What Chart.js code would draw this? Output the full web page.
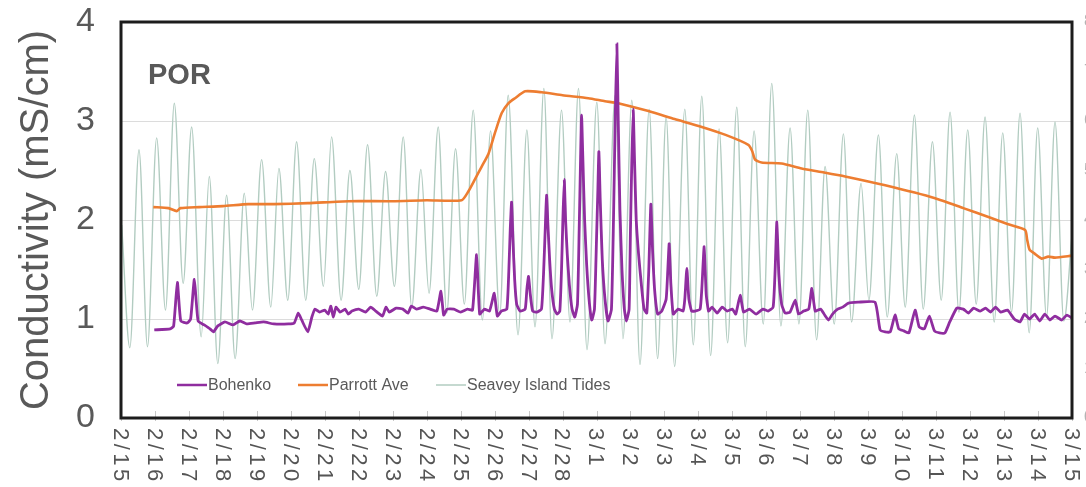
<!DOCTYPE html>
<html>
<head>
<meta charset="utf-8">
<script src="https://cdn.jsdelivr.net/npm/chart.js@4.4.1/dist/chart.umd.min.js"></script>
<style>
html, body { margin: 0; padding: 0; background: #fff; overflow: hidden; }
#wrap { width: 1100px; height: 487px; position: relative; }
</style>
</head>
<body>
<div id="wrap"><canvas id="chart"></canvas></div>
<script>
// day labels, one per tick (x = days after 2/15)
var dateLabels = ['2/15','2/16','2/17','2/18','2/19','2/20','2/21','2/22','2/23','2/24','2/25','2/26','2/27','2/28',
    '3/1','3/2','3/3','3/4','3/5','3/6','3/7','3/8','3/9','3/10','3/11','3/12','3/13','3/14','3/15'];
var seriesNames = ['Bohenko', 'Parrott Ave', 'Seavey Island Tides'];
var yTicks = [0, 1, 2, 3, 4];

// Bohenko
var bohDay = [0.98,1.45,1.55,1.66,1.76,1.95,2.05,2.16,2.27,2.45,2.62,2.72,2.85,3.06,3.3,3.5,3.7,3.95,4.2,4.5,4.93,5.1,5.22,5.32,5.5,5.62,5.71,5.85,6.0,6.1,6.18,6.25,6.33,6.45,6.6,6.69,6.8,7.0,7.2,7.35,7.5,7.7,7.8,7.9,8.1,8.3,8.45,8.55,8.7,8.9,9.1,9.3,9.42,9.5,9.6,9.8,10.0,10.2,10.35,10.47,10.56,10.7,10.85,10.99,11.08,
    11.2,11.36,11.42,11.46,11.5,11.54,11.59,11.65,11.75,11.9,11.95,12.0,12.05,12.12,12.25,12.38,12.44,12.49,12.53,12.57,12.62,12.68,12.76,12.84,12.92,12.97,13.01,13.05,13.09,13.14,13.2,13.28,13.36,13.44,13.49,13.53,13.56,13.6,13.65,13.71,13.78,13.86,13.94,14.0,14.04,14.07,14.11,14.17,14.25,14.34,14.44,14.5,14.55,14.6,14.64,14.69,14.75,14.82,14.88,14.96,15.0,15.04,15.08,15.12,15.17,15.24,15.32,15.4,15.48,15.54,15.6,15.65,15.71,15.8,15.92,16.05,16.1,16.14,16.19,16.26,
    16.4,16.55,16.6,16.66,16.72,16.8,16.9,17.05,17.1,17.17,17.23,17.3,17.4,17.55,17.7,17.85,18.0,18.1,18.23,18.33,18.5,18.7,18.9,19.05,19.2,19.26,19.31,19.37,19.45,19.55,19.7,19.85,19.95,20.1,20.25,20.34,20.44,20.6,20.7,20.83,20.95,21.1,21.25,21.42,21.7,22.2,22.35,22.5,22.65,22.79,22.9,23.05,23.2,23.38,23.5,23.65,23.8,23.95,24.1,24.26,24.4,24.61,24.8,24.95,25.1,25.3,25.45,25.6,25.75,25.9,26.1,26.3,26.47,26.6,26.75,26.9,27.05,27.2,27.35,27.5,27.7,27.85,28.0];
var bohVal = [0.89,0.9,0.93,1.37,0.98,0.96,1.0,1.4,0.98,0.94,0.9,0.87,0.93,0.97,0.94,0.98,0.95,0.96,0.97,0.95,0.95,0.96,1.06,0.99,0.87,1.02,1.1,1.07,1.09,1.05,1.13,1.02,1.12,1.07,1.1,1.05,1.08,1.1,1.07,1.12,1.08,1.03,1.12,1.07,1.11,1.1,1.06,1.13,1.1,1.12,1.1,1.08,1.28,1.04,1.1,1.1,1.07,1.1,1.09,1.65,1.05,1.1,1.08,1.26,1.03,
    1.08,1.1,1.5,1.9,2.18,1.8,1.4,1.15,1.08,1.1,1.3,1.43,1.25,1.08,1.07,1.1,1.45,1.9,2.25,1.95,1.6,1.3,1.1,1.05,1.08,1.5,2.0,2.41,2.0,1.65,1.35,1.1,1.02,1.15,1.9,2.6,3.06,2.6,2.0,1.55,1.2,0.99,1.1,1.8,2.3,2.69,2.2,1.6,1.2,0.98,1.1,2.0,3.0,3.78,3.0,2.1,1.5,1.1,0.98,1.1,1.9,2.6,3.12,2.6,2.0,1.65,1.35,1.1,1.06,1.5,2.16,1.7,1.3,1.05,1.08,1.2,1.5,1.76,1.35,1.05,
    1.1,1.08,1.2,1.51,1.2,1.08,1.08,1.1,1.3,1.73,1.25,1.08,1.12,1.06,1.12,1.08,1.1,1.05,1.24,1.07,1.1,1.05,1.1,1.08,1.12,1.5,1.98,1.45,1.15,1.06,1.07,1.19,1.05,1.08,1.1,1.31,1.08,1.1,1.05,0.99,1.05,1.1,1.12,1.16,1.17,1.17,0.89,0.87,0.87,1.04,0.9,0.88,0.86,1.09,0.92,0.9,1.03,0.88,0.86,0.86,0.97,1.11,1.1,1.06,1.11,1.08,1.11,1.07,1.12,1.07,1.09,1.0,0.97,1.05,1.0,1.05,0.98,1.05,0.99,1.03,0.99,1.04,1.01];

// Parrott Ave
var parDay = [0.95,1.4,1.64,1.75,2.3,3.0,3.75,4.5,5.5,6.7,8.0,9.0,10.03,10.23,10.42,10.62,10.82,11.01,11.21,11.41,11.6,11.9,12.39,13.0,13.76,14.25,14.64,15.53,16.3,17.1,17.8,18.47,18.58,18.67,18.86,19.45,20.04,20.7,21.32,22.5,23.97,24.8,25.54,26.1,26.62,26.68,26.75,26.9,27.11,27.3,27.5,27.99];
var parVal = [2.13,2.12,2.09,2.12,2.13,2.14,2.16,2.16,2.17,2.19,2.19,2.2,2.2,2.29,2.41,2.54,2.67,2.88,3.08,3.18,3.23,3.3,3.29,3.26,3.23,3.2,3.18,3.1,3.02,2.94,2.86,2.76,2.7,2.61,2.58,2.57,2.52,2.48,2.44,2.35,2.22,2.12,2.03,1.96,1.9,1.8,1.7,1.66,1.61,1.63,1.62,1.64];

// Seavey Island Tides (highs and lows)
var tideDay = [0.02,0.26,0.53,0.78,1.05,1.31,1.57,1.83,2.08,2.36,2.6,2.85,3.11,3.36,3.63,3.87,4.14,4.41,4.65,4.91,5.17,5.44,5.69,5.96,6.2,6.48,6.74,7.0,7.26,7.53,7.79,8.05,8.31,8.56,8.83,9.07,9.34,9.59,9.85,10.11,10.37,10.64,10.88,11.15,11.4,11.69,11.95,12.19,12.45,12.69,12.97,13.22,13.47,13.72,14.01,14.25,14.55,14.78,15.04,15.28,15.55,15.8,16.05,16.3,16.6,16.85,17.1,17.36,17.61,17.86,18.13,18.38,18.64,18.91,19.16,19.43,19.7,19.96,20.22,20.48,20.73,21.0,21.27,21.51,21.79,22.02,22.3,22.56,22.84,23.09,23.36,23.62,23.89,24.15,24.41,24.67,24.93,25.18,25.44,25.71,25.96,26.22,26.47,26.74,26.99,27.25,27.5,27.76,28.0];
var tideVal = [1.95,0.71,2.71,0.72,2.83,1.09,3.18,1.36,2.94,0.82,2.44,0.55,2.25,0.6,2.27,1.09,2.61,1.12,2.52,1.19,2.79,1.19,2.62,1.33,2.84,1.19,2.5,1.3,2.76,1.23,2.49,1.33,2.84,1.12,2.51,1.26,2.94,1.06,2.72,1.15,3.11,0.99,2.9,1.04,3.26,0.84,2.91,0.92,3.33,0.8,3.11,0.97,3.33,0.69,3.19,0.75,3.26,0.8,3.21,0.54,3.12,0.6,3.04,0.52,3.12,0.74,3.25,0.63,2.92,0.76,3.14,0.72,2.9,0.95,3.38,0.93,2.93,0.95,3.11,0.79,2.54,0.95,2.87,0.97,2.37,1.19,2.86,1.02,2.67,1.12,3.06,1.1,2.79,1.19,3.09,1.07,2.91,1.15,3.04,0.97,2.88,1.07,3.08,0.86,2.93,1.02,2.99,0.98,1.85];

var colors = ['#8f2d9f', '#ed7d31', '#b2ccc1'];
var gray = '#595959';

function toPoints(days, vals) {
    var pts = [];
    for (var i = 0; i < days.length; i++) {
        pts.push({ x: days[i], y: vals[i] });
    }
    return pts;
}

// keep the axis label overhang from pushing the plot down
function noOverhang(s) {
    s.paddingTop = 0;
    s.paddingBottom = 0;
}

// frame, rotated date labels, panel tag and legend inside the plot
var overlay = {
    id: 'overlay',
    afterDraw: function (chart) {
        var ctx = chart.ctx;
        var a = chart.chartArea;
        var xs = chart.scales.x;
        ctx.save();

        ctx.strokeStyle = '#c8c8c8';
        ctx.lineWidth = 1;
        for (var i = 0; i < dateLabels.length; i++) {
            var px = Math.round(xs.getPixelForValue(i)) + 0.5;
            ctx.beginPath();
            ctx.moveTo(px, a.bottom - 7);
            ctx.lineTo(px, a.bottom + 3);
            ctx.stroke();
        }

        ctx.strokeStyle = '#1c1c1c';
        ctx.lineWidth = 3;
        ctx.strokeRect(a.left, a.top, a.right - a.left, a.bottom - a.top);

        ctx.fillStyle = '#555555';
        ctx.font = '22px "Liberation Sans", Arial, sans-serif';
        ctx.letterSpacing = '3.5px';
        ctx.textAlign = 'left';
        ctx.textBaseline = 'middle';
        for (var j = 0; j < dateLabels.length; j++) {
            ctx.save();
            ctx.translate(xs.getPixelForValue(j) - 1, a.bottom + 10);
            ctx.rotate(Math.PI / 2);
            ctx.fillText(dateLabels[j], 0, 0);
            ctx.restore();
        }
        ctx.letterSpacing = '0px';

        ctx.fillStyle = gray;
        ctx.font = 'bold 29px "Liberation Sans", Arial, sans-serif';
        ctx.textBaseline = 'alphabetic';
        ctx.fillText('POR', 148, 84);

        var legX = [177, 298, 436];
        var legY = 385;
        ctx.font = '16px "Liberation Sans", Arial, sans-serif';
        ctx.textBaseline = 'middle';
        chart.data.datasets.forEach(function (ds, k) {
            ctx.strokeStyle = ds.borderColor;
            ctx.lineWidth = k == 2 ? 1.5 : 2.5;
            ctx.beginPath();
            ctx.moveTo(legX[k], legY);
            ctx.lineTo(legX[k] + 30, legY);
            ctx.stroke();
            ctx.fillStyle = gray;
            ctx.fillText(ds.label, legX[k] + 31, legY + 1);
        });
        ctx.restore();
    }
};

var chart = new Chart('chart', {
    type: 'line',
    data: {
        datasets: [
            {
                label: seriesNames[0],
                data: toPoints(bohDay, bohVal),
                borderColor: colors[0],
                borderWidth: 2.8,
                pointRadius: 0,
                tension: 0.15
            },
            {
                label: seriesNames[1],
                data: toPoints(parDay, parVal),
                borderColor: colors[1],
                borderWidth: 2.6,
                pointRadius: 0,
                tension: 0.2
            },
            {
                label: seriesNames[2],
                data: toPoints(tideDay, tideVal),
                borderColor: colors[2],
                borderWidth: 1.4,
                pointRadius: 0,
                cubicInterpolationMode: 'monotone'
            }
        ]
    },
    options: {
        responsive: true,
        maintainAspectRatio: false,
        animation: false,
        layout: { padding: { top: 22, left: 0, right: 0, bottom: 0 } },
        plugins: {
            legend: { display: false },
            tooltip: { enabled: false }
        },
        scales: {
            x: {
                type: 'linear',
                min: 0,
                max: dateLabels.length - 1,
                ticks: { display: false, stepSize: 1 },
                grid: { display: false },
                border: { display: false },
                afterFit: function (s) { s.height = 69; s.paddingLeft = 0; s.paddingRight = 0; }
            },
            y: {
                position: 'left',
                min: yTicks[0],
                max: yTicks[yTicks.length - 1],
                ticks: {
                    stepSize: 1,
                    color: gray,
                    padding: 26,
                    font: { size: 34, family: '"Liberation Sans", Arial, sans-serif' }
                },
                grid: { color: '#dcdcdc', lineWidth: 1, drawTicks: false },
                border: { display: false },
                title: {
                    display: true,
                    text: 'Conductivity (mS/cm)',
                    color: gray,
                    padding: { top: 13, bottom: 0 },
                    font: { size: 40, family: '"Liberation Sans", Arial, sans-serif' }
                },
                afterFit: function (s) { s.width = 121; noOverhang(s); }
            },
            y2: {
                position: 'right',
                min: 0,
                max: 8,
                ticks: {
                    stepSize: 1,
                    color: '#b4b4b4',
                    padding: 12,
                    font: { size: 16, family: '"Liberation Sans", Arial, sans-serif' }
                },
                grid: { drawOnChartArea: false, drawTicks: false },
                border: { display: false },
                afterFit: function (s) { s.width = 28; noOverhang(s); }
            }
        }
    },
    plugins: [overlay]
});
</script>
</body>
</html>
